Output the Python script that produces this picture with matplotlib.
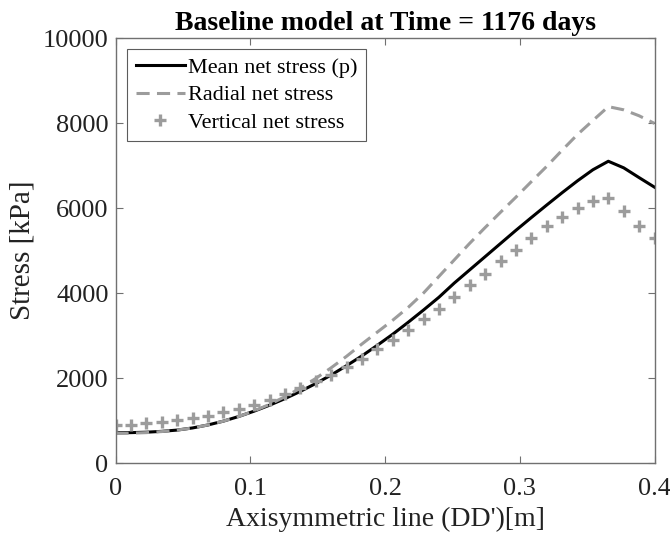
import matplotlib
matplotlib.use("Agg")
import matplotlib.pyplot as plt
import numpy as np

# nodes along the axisymmetric line DD' (36 equally spaced points)
x = np.linspace(0, 0.4, 36)

mean_stress = [710, 715, 725, 745, 775, 825, 895, 985, 1095, 1220,
               1360, 1515, 1685, 1870, 2070, 2290, 2520, 2770, 3030, 3310,
               3600, 3900, 4235, 4545, 4855, 5165, 5475, 5775, 6070, 6360,
               6640, 6900, 7100, 6945, 6715, 6490]

radial_stress = [695, 702, 715, 740, 775, 825, 895, 985, 1095, 1225,
                 1380, 1560, 1760, 1990, 2240, 2510, 2800, 3080, 3360, 3660,
                 4000, 4390, 4780, 5170, 5540, 5900, 6255, 6620, 6980, 7360,
                 7730, 8060, 8385, 8310, 8170, 7990]

vertical_stress = [900, 905, 935, 975, 1015, 1060, 1115, 1190, 1270, 1370,
                   1475, 1620, 1760, 1930, 2080, 2255, 2440, 2675, 2895, 3136,
                   3380, 3635, 3900, 4195, 4455, 4745, 5020, 5295, 5565, 5800,
                   6000, 6170, 6235, 5935, 5585, 5295]

xticks = [0, 0.1, 0.2, 0.3, 0.4]
xticklabels = ["0", "0.1", "0.2", "0.3", "0.4"]
yticks = [0, 2000, 4000, 6000, 8000, 10000]

plt.rcParams["font.family"] = ["Liberation Serif", "DejaVu Serif"]

fig = plt.figure(figsize=(6.7, 5.33), dpi=100)
ax = fig.add_axes([0.1724, 0.1313, 0.8045, 0.7974])

gray = "#9c9c9c"
ax.plot(x, mean_stress, color="black", lw=2.2, label="Mean net stress (p)")
ax.plot(x, radial_stress, color=gray, lw=2.2, dashes=(4.3, 2.4),
        label="Radial net stress")
ax.plot(x, vertical_stress, linestyle="none", marker="+", color=gray,
        ms=8, mew=2.4, label="Vertical net stress")

ax.set_xlim(0, 0.4)
ax.set_ylim(0, 10000)
ax.set_xticks(xticks)
ax.set_xticklabels(xticklabels)
ax.set_yticks(yticks)
ax.tick_params(direction="in", top=True, right=True, length=5, width=0.8,
               color="#707070", labelsize=19, labelcolor="#222222")
ax.tick_params(axis="x", pad=11)
ax.tick_params(axis="y", pad=5)
for s in ax.spines.values():
    s.set_color("#707070")
    s.set_linewidth(1.0)

ax.set_xlabel("Axisymmetric line (DD')[m]", fontsize=20, color="#222222", labelpad=5)
ax.set_ylabel("Stress [kPa]", fontsize=21, color="#222222", labelpad=5)
ax.set_title("Baseline model at Time = 1176 days", fontsize=20,
             fontweight="bold", pad=6)

leg = ax.legend(loc="upper left", bbox_to_anchor=(0.021, 0.975), fontsize=16,
                frameon=True, fancybox=False, edgecolor="#333333",
                handlelength=2.2, handletextpad=0.15, borderpad=0.4,
                labelspacing=0.3, borderaxespad=0)
leg.get_frame().set_linewidth(0.8)

fig.savefig("out.png", dpi=100)
